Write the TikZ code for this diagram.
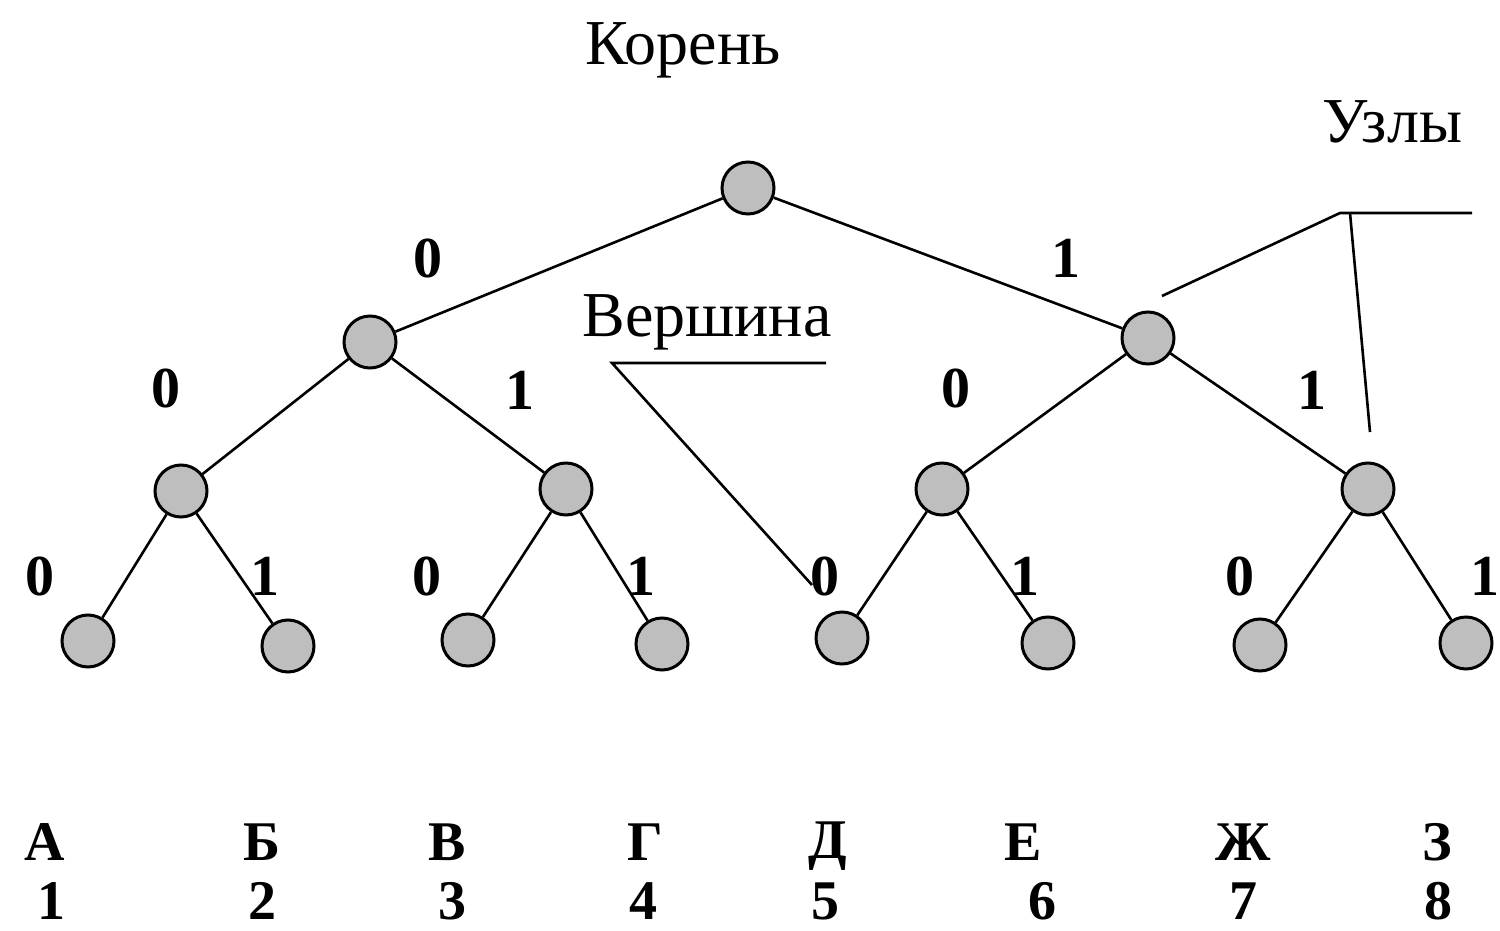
\documentclass[tikz,border=0pt]{standalone}
\usepackage{fontspec}
\setmainfont{Liberation Serif}
\begin{document}
\begin{tikzpicture}[x=0.5pt,y=-0.5pt,
  vert/.style={circle,draw=black,line width=1.5pt,fill=nodegray,minimum size=26pt,inner sep=0pt},
  edge/.style={line width=1.3pt},
  bit/.style={font=\fontsize{29}{30}\selectfont\bfseries,inner sep=0pt},
  letter/.style={font=\fontsize{28}{30}\selectfont\bfseries,inner sep=0pt},
  word/.style={font=\fontsize{32}{36}\selectfont,inner sep=0pt}]
\definecolor{nodegray}{RGB}{190,190,190}
\useasboundingbox (0,0) rectangle (1500,931);
% nodes
\node[vert] (r) at (748,188) {};
\node[vert] (a) at (370,342) {};
\node[vert] (b) at (1148,338) {};
\node[vert] (aa) at (181,491) {};
\node[vert] (ab) at (566,489) {};
\node[vert] (ba) at (942,489) {};
\node[vert] (bb) at (1368,489) {};
\node[vert] (l1) at (88,641) {};
\node[vert] (l2) at (288,646) {};
\node[vert] (l3) at (468,640) {};
\node[vert] (l4) at (662,644) {};
\node[vert] (l5) at (842,638) {};
\node[vert] (l6) at (1048,643) {};
\node[vert] (l7) at (1260,645) {};
\node[vert] (l8) at (1466,643) {};
% edges
\draw[edge] (r) -- (a);
\draw[edge] (r) -- (b);
\draw[edge] (a) -- (aa);
\draw[edge] (a) -- (ab);
\draw[edge] (b) -- (ba);
\draw[edge] (b) -- (bb);
\draw[edge] (aa) -- (l1);
\draw[edge] (aa) -- (l2);
\draw[edge] (ab) -- (l3);
\draw[edge] (ab) -- (l4);
\draw[edge] (ba) -- (l5);
\draw[edge] (ba) -- (l6);
\draw[edge] (bb) -- (l7);
\draw[edge] (bb) -- (l8);
% bit labels
\node[bit] (e1) at (428,258) {0};
\node[bit] (e2) at (1066,258) {1};
\node[bit] (e3) at (166,388) {0};
\node[bit] (e4) at (520,390) {1};
\node[bit] (e5) at (956,388) {0};
\node[bit] (e6) at (1312,390) {1};
\node[bit] (e7) at (40,576) {0};
\node[bit] (e8) at (265,576) {1};
\node[bit] (e9) at (427,576) {0};
\node[bit] (e10) at (641,576) {1};
\node[bit] (e11) at (825,576) {0};
\node[bit] (e12) at (1025,576) {1};
\node[bit] (e13) at (1240,576) {0};
\node[bit] (e14) at (1485,576) {1};
% words
\node[word] (koren) at (683,50) {Корень};
\node[word] (uzly) at (1392,122) {Узлы};
\node[word] (vershina) at (707,322) {Вершина};
% annotation lines
\coordinate (v0) at (612,363);
\coordinate (v1) at (826,363);
\coordinate (v2) at (812,585);
\draw[edge] (v1) -- (v0) -- (v2);
\coordinate (u0) at (1162,296);
\coordinate (u1) at (1340,213);
\coordinate (u2) at (1472,213);
\coordinate (u3) at (1350,213);
\coordinate (u4) at (1370,432);
\draw[edge] (u0) -- (u1) -- (u2);
\draw[edge] (u3) -- (u4);
% bottom letters
\node[letter] (tA) at (45,842) {А};
\node[letter] (tB) at (262,842) {Б};
\node[letter] (tV) at (447,842) {В};
\node[letter] (tG) at (645,842) {Г};
\node[letter] (tD) at (828,846) {Д};
\node[letter] (tE) at (1023,842) {Е};
\node[letter] (tZh) at (1243,842) {Ж};
\node[letter] (tZ) at (1437,842) {З};
\node[letter] (n1) at (52,901) {1};
\node[letter] (n2) at (262,901) {2};
\node[letter] (n3) at (452,901) {3};
\node[letter] (n4) at (643,901) {4};
\node[letter] (n5) at (825,901) {5};
\node[letter] (n6) at (1042,901) {6};
\node[letter] (n7) at (1243,901) {7};
\node[letter] (n8) at (1438,901) {8};
\end{tikzpicture}
\end{document}
